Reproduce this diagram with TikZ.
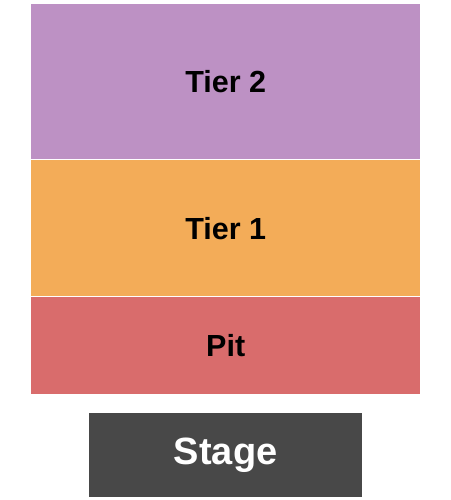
\documentclass[tikz,border=0pt]{standalone}
\usepackage{fontspec}
\setmainfont{Liberation Sans}
\usetikzlibrary{positioning}
\definecolor{tiertwo}{HTML}{BD91C4}
\definecolor{tierone}{HTML}{F3AC58}
\definecolor{pitcol}{HTML}{D96C6C}
\definecolor{stagecol}{HTML}{484848}
\tikzset{
    zone/.style={fill=#1, draw=none, inner sep=0pt, anchor=north west,
      minimum width=389pt, font=\fontsize{30.5}{31}\selectfont\bfseries},
  }

\begin{document}
\begin{tikzpicture}[x=1pt,y=-1pt]
	%cadre
	\useasboundingbox (0,0) rectangle (450,500);

	%zones
	\node[zone=tiertwo, minimum height=155pt] (T2) at (31,4) {Tier 2};
	\node[zone=tierone, minimum height=136pt] (T1) at (31,160) {Tier 1};
	\node[zone=pitcol, minimum height=97pt] (P) at (31,297) {Pit};

	%scene
	\node[fill=stagecol, text=white, inner sep=0pt, anchor=north west,
	  minimum width=273pt, minimum height=84pt,
	  font=\fontsize{38}{39}\selectfont\bfseries] (S) at (89,413) {Stage};
\end{tikzpicture}
\end{document}
